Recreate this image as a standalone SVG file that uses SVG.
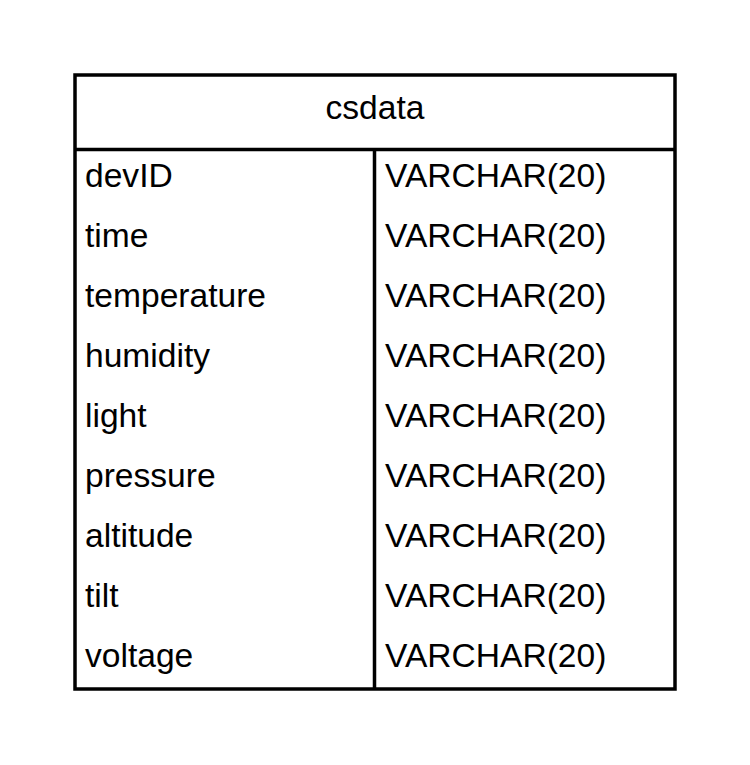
<svg xmlns="http://www.w3.org/2000/svg" width="750" height="765" viewBox="0 0 750 765">
<style>
.t{font-family:"Liberation Sans",Arial,sans-serif;font-size:33.6px;fill:#000}
.ln{stroke:#000;stroke-width:3.5;fill:none}
</style>
<rect width="750" height="765" fill="#fff"/>
<g id="table">
<rect class="ln" x="75" y="75" width="600" height="614" fill="#fff"/>
<line class="ln" x1="75" y1="149.5" x2="675" y2="149.5"/>
<line class="ln" x1="374.5" y1="149.5" x2="374.5" y2="689"/>
<text class="t" x="375" y="119" text-anchor="middle">csdata</text>
</g>
<g id="names" class="t">
<text x="85" y="187">devID</text>
<text x="85" y="247">time</text>
<text x="85" y="307">temperature</text>
<text x="85" y="367">humidity</text>
<text x="85" y="427">light</text>
<text x="85" y="487">pressure</text>
<text x="85" y="547">altitude</text>
<text x="85" y="607">tilt</text>
<text x="85" y="667">voltage</text>
</g>
<g id="types" class="t">
<text x="385" y="187">VARCHAR(20)</text>
<text x="385" y="247">VARCHAR(20)</text>
<text x="385" y="307">VARCHAR(20)</text>
<text x="385" y="367">VARCHAR(20)</text>
<text x="385" y="427">VARCHAR(20)</text>
<text x="385" y="487">VARCHAR(20)</text>
<text x="385" y="547">VARCHAR(20)</text>
<text x="385" y="607">VARCHAR(20)</text>
<text x="385" y="667">VARCHAR(20)</text>
</g>
</svg>
